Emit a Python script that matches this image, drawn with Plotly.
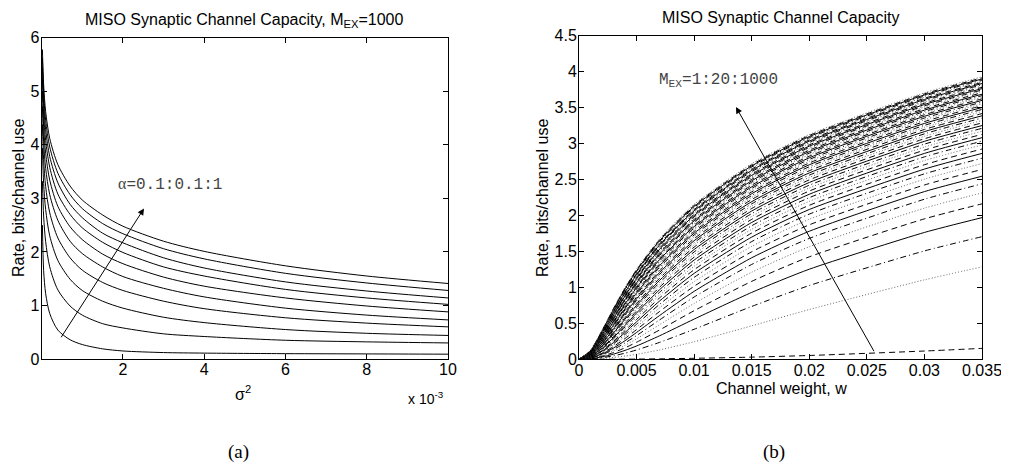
import plotly.graph_objects as go

# ---------------- (a) left panel data ----------------
sigma2 = [0.00002, 0.00005, 0.0001, 0.0002, 0.0004, 0.0007, 0.001, 0.0015,
          0.002, 0.003, 0.004, 0.006, 0.008, 0.01]
alphas = [0.1, 0.2, 0.3, 0.4, 0.5, 0.6, 0.7, 0.8, 0.9, 1.0]
rate_a01 = [2.50, 1.65, 1.22, 0.85, 0.54, 0.36, 0.27, 0.19, 0.15, 0.12, 0.11, 0.10, 0.095, 0.09]
rate_a02 = [3.32, 2.67, 2.19, 1.72, 1.29, 0.99, 0.82, 0.66, 0.58, 0.47, 0.42, 0.35, 0.32, 0.30]
rate_a03 = [3.94, 3.28, 2.79, 2.30, 1.84, 1.49, 1.28, 1.08, 0.95, 0.78, 0.68, 0.55, 0.48, 0.44]
rate_a04 = [4.38, 3.72, 3.22, 2.73, 2.26, 1.89, 1.66, 1.43, 1.28, 1.08, 0.94, 0.77, 0.67, 0.60]
rate_a05 = [4.72, 4.06, 3.56, 3.07, 2.59, 2.20, 1.97, 1.72, 1.54, 1.32, 1.16, 0.95, 0.82, 0.73]
rate_a06 = [5.00, 4.34, 3.84, 3.34, 2.85, 2.47, 2.23, 1.96, 1.78, 1.53, 1.36, 1.14, 0.99, 0.88]
rate_a07 = [5.24, 4.57, 4.08, 3.58, 3.08, 2.70, 2.45, 2.18, 1.99, 1.72, 1.55, 1.30, 1.14, 1.02]
rate_a08 = [5.44, 4.78, 4.28, 3.78, 3.29, 2.89, 2.64, 2.35, 2.17, 1.89, 1.70, 1.44, 1.27, 1.14]
rate_a09 = [5.62, 4.96, 4.46, 3.96, 3.47, 3.07, 2.81, 2.53, 2.34, 2.06, 1.87, 1.60, 1.42, 1.28]
rate_a10 = [5.78, 5.12, 4.62, 4.12, 3.63, 3.23, 2.97, 2.69, 2.48, 2.20, 2.01, 1.74, 1.55, 1.41]
left_curves = [rate_a01, rate_a02, rate_a03, rate_a04, rate_a05,
               rate_a06, rate_a07, rate_a08, rate_a09, rate_a10]
left_xticks = [0.002, 0.004, 0.006, 0.008, 0.01]
left_xticklabels = ["2", "4", "6", "8", "10"]
left_yticks = [0, 1, 2, 3, 4, 5, 6]

# ---------------- (b) right panel data ----------------
m_ex = list(range(1, 1001, 20))
weights = [0.0, 0.001, 0.002, 0.003, 0.004, 0.005, 0.007, 0.01, 0.015, 0.02, 0.03, 0.035]
r_w000 = [0.0] * 50
r_w001 = [0.000,0.003,0.006,0.008,0.011,0.014,0.017,0.019,0.022,0.025,0.027,0.030,0.033,0.035,0.038,0.041,0.043,0.046,0.048,0.051,0.053,0.056,0.059,0.061,0.064,0.066,0.069,0.071,0.074,0.076,0.079,0.081,0.084,0.086,0.089,0.091,0.093,0.096,0.098,0.101,0.103,0.105,0.108,0.110,0.113,0.115,0.117,0.120,0.122,0.124]
r_w002 = [0.001,0.012,0.022,0.033,0.043,0.054,0.064,0.074,0.084,0.094,0.103,0.113,0.122,0.132,0.141,0.150,0.159,0.168,0.176,0.185,0.193,0.202,0.210,0.218,0.227,0.235,0.242,0.250,0.258,0.266,0.273,0.281,0.288,0.296,0.303,0.310,0.318,0.325,0.332,0.339,0.345,0.352,0.359,0.366,0.372,0.379,0.385,0.392,0.398,0.405]
r_w003 = [0.001,0.026,0.049,0.072,0.094,0.116,0.137,0.157,0.177,0.196,0.215,0.233,0.251,0.268,0.285,0.302,0.318,0.334,0.349,0.365,0.379,0.394,0.408,0.422,0.436,0.450,0.463,0.476,0.488,0.501,0.513,0.525,0.537,0.549,0.561,0.572,0.583,0.594,0.605,0.616,0.626,0.637,0.647,0.657,0.667,0.677,0.686,0.696,0.705,0.715]
r_w004 = [0.002,0.045,0.085,0.124,0.160,0.195,0.228,0.259,0.290,0.319,0.347,0.373,0.399,0.424,0.449,0.472,0.495,0.517,0.538,0.559,0.579,0.598,0.617,0.636,0.654,0.672,0.689,0.706,0.722,0.738,0.754,0.769,0.785,0.799,0.814,0.828,0.842,0.856,0.869,0.882,0.895,0.908,0.920,0.932,0.944,0.956,0.968,0.979,0.991,1.002]
r_w005 = [0.003,0.069,0.130,0.185,0.237,0.285,0.330,0.373,0.413,0.451,0.487,0.521,0.554,0.585,0.616,0.644,0.672,0.699,0.725,0.750,0.774,0.797,0.820,0.841,0.863,0.883,0.903,0.923,0.942,0.960,0.978,0.996,1.013,1.030,1.046,1.062,1.078,1.093,1.108,1.123,1.138,1.152,1.166,1.179,1.193,1.206,1.219,1.231,1.244,1.256]
r_w007 = [0.007,0.130,0.235,0.327,0.408,0.481,0.548,0.609,0.665,0.717,0.765,0.811,0.854,0.894,0.932,0.968,1.003,1.036,1.068,1.098,1.127,1.155,1.182,1.207,1.232,1.257,1.280,1.303,1.325,1.346,1.367,1.387,1.406,1.425,1.444,1.462,1.480,1.497,1.514,1.530,1.546,1.562,1.577,1.592,1.607,1.622,1.636,1.650,1.663,1.677]
r_w010 = [0.014,0.244,0.418,0.559,0.676,0.777,0.866,0.945,1.016,1.080,1.140,1.195,1.246,1.293,1.338,1.380,1.420,1.457,1.493,1.527,1.560,1.591,1.621,1.649,1.677,1.704,1.729,1.754,1.778,1.801,1.823,1.845,1.866,1.887,1.907,1.926,1.945,1.963,1.981,1.999,2.016,2.033,2.049,2.065,2.081,2.096,2.111,2.126,2.140,2.154]
r_w015 = [0.030,0.465,0.735,0.930,1.084,1.211,1.319,1.412,1.495,1.570,1.637,1.699,1.756,1.808,1.857,1.903,1.946,1.987,2.026,2.062,2.097,2.130,2.162,2.192,2.222,2.250,2.277,2.303,2.328,2.352,2.376,2.398,2.421,2.442,2.463,2.483,2.503,2.522,2.540,2.558,2.576,2.593,2.610,2.627,2.643,2.659,2.674,2.689,2.704,2.719]
r_w020 = [0.053,0.692,1.026,1.253,1.425,1.565,1.681,1.781,1.870,1.948,2.019,2.083,2.142,2.197,2.248,2.295,2.340,2.382,2.421,2.459,2.495,2.529,2.561,2.592,2.622,2.651,2.678,2.705,2.730,2.755,2.779,2.802,2.824,2.846,2.867,2.888,2.908,2.927,2.946,2.964,2.982,3.000,3.017,3.034,3.050,3.066,3.081,3.097,3.112,3.126]
r_w030 = [0.115,1.105,1.507,1.764,1.953,2.102,2.226,2.332,2.424,2.505,2.579,2.645,2.706,2.763,2.815,2.863,2.909,2.952,2.992,3.031,3.067,3.101,3.135,3.166,3.196,3.225,3.253,3.280,3.306,3.331,3.355,3.379,3.401,3.423,3.445,3.465,3.485,3.505,3.524,3.543,3.561,3.578,3.596,3.613,3.629,3.645,3.661,3.676,3.691,3.706]
r_w035 = [0.152,1.285,1.705,1.970,2.162,2.314,2.440,2.546,2.640,2.722,2.796,2.863,2.924,2.981,3.033,3.082,3.128,3.171,3.212,3.250,3.287,3.321,3.355,3.386,3.417,3.446,3.474,3.501,3.527,3.552,3.576,3.600,3.622,3.644,3.666,3.686,3.707,3.726,3.745,3.764,3.782,3.800,3.817,3.834,3.850,3.866,3.882,3.898,3.913,3.928]
right_columns = [r_w000, r_w001, r_w002, r_w003, r_w004, r_w005, r_w007, r_w010,
                 r_w015, r_w020, r_w030, r_w035]
right_xticks = [0, 0.005, 0.01, 0.015, 0.02, 0.025, 0.03, 0.035]
right_xticklabels = ["0", "0.005", "0.01", "0.015", "0.02", "0.025", "0.03", "0.035"]
right_yticks = [0, 0.5, 1, 1.5, 2, 2.5, 3, 3.5, 4, 4.5]
right_yticklabels = ["0", "0.5", "1", "1.5", "2", "2.5", "3", "3.5", "4", "4.5"]

# ---------------- figure ----------------
# the page body has an 8px margin, so the figure is sized to fill the window from there
OFF = 8
W, H = 1009 - OFF, 468 - OFF
SANS = "Liberation Sans, Arial, Helvetica, sans-serif"
MONO = "Liberation Mono, Courier New, monospace"
SERIF = "Liberation Serif, Times New Roman, serif"

def px_x(p):
    return (p - OFF) / W

def px_y(p):
    return 1 - (p - OFF) / H

fig = go.Figure()

for a, ys in zip(alphas, left_curves):
    fig.add_trace(go.Scatter(x=sigma2, y=ys, mode="lines", xaxis="x", yaxis="y",
                             line=dict(color="black", width=1, shape="spline", smoothing=0.8),
                             name=f"alpha={a}", showlegend=False, hoverinfo="skip"))

styles = [("black", "6px,4px"), ("#666666", "1px,2px"), ("black", "6px,3px,1px,3px"), ("black", "solid")]
for j, m in enumerate(m_ex):
    ys = [col[j] for col in right_columns]
    color, dash = styles[j % 4]
    fig.add_trace(go.Scatter(x=weights, y=ys, mode="lines", xaxis="x2", yaxis="y2",
                             line=dict(color=color, width=1, dash=dash, shape="spline", smoothing=0.6),
                             name=f"M_EX={m}", showlegend=False, hoverinfo="skip"))

axis_common = dict(showline=True, linecolor="black", linewidth=1, mirror="ticks",
                   ticks="inside", ticklen=5, tickwidth=1, tickcolor="black",
                   showgrid=False, zeroline=False, automargin=False,
                   tickfont=dict(family=SANS, size=16, color="black"))

fig.update_layout(
    template="none",
    width=W, height=H, margin=dict(l=0, r=0, t=0, b=0, pad=0),
    paper_bgcolor="white", plot_bgcolor="white", showlegend=False,
    xaxis=dict(domain=[px_x(41.6), px_x(448)], range=[0, 0.01], tickvals=left_xticks,
               ticktext=left_xticklabels, anchor="y", ticklabelstandoff=-4, **axis_common),
    yaxis=dict(domain=[px_y(359), px_y(37.7)], range=[0, 6], tickvals=left_yticks,
               anchor="x", ticklabelstandoff=-2, **axis_common),
    xaxis2=dict(domain=[px_x(579), px_x(982)], range=[0, 0.035], tickvals=right_xticks,
                ticktext=right_xticklabels, anchor="y2", ticklabelstandoff=-4, **axis_common),
    yaxis2=dict(domain=[px_y(359.3), px_y(35.7)], range=[0, 4.5], tickvals=right_yticks,
                ticktext=right_yticklabels, anchor="x2", ticklabelstandoff=-2, **axis_common),
)

ann = []
def text(x, y, s, size=16, family=SANS, color="black", angle=0, xanchor="center", yanchor="middle"):
    ann.append(dict(x=px_x(x), y=px_y(y), xref="paper", yref="paper", text=s, showarrow=False,
                    font=dict(family=family, size=size, color=color), textangle=angle,
                    xanchor=xanchor, yanchor=yanchor))

text(244, 8.5, "MISO Synaptic Channel Capacity, M<sub>EX</sub>=1000", size=16, yanchor="top")
text(780, 17, "MISO Synaptic Channel Capacity", size=16)
text(18, 198, "Rate, bits/channel use", size=16, angle=-90)
text(542, 198, "Rate, bits/channel use", size=16, angle=-90)
text(243, 393, "σ<sup>2</sup>", size=16)
text(426, 398, "x 10<sup>-3</sup>", size=14)
text(781, 388, "Channel weight, w", size=16)
text(238, 452, "(a)", size=19, family=SERIF)
text(774, 452, "(b)", size=19, family=SERIF)

ann.append(dict(x=0.00252, y=2.81, ax=0.000458, ay=0.378, xref="x", yref="y", axref="x", ayref="y",
                text="", showarrow=True, arrowhead=2, arrowsize=1.3, arrowwidth=1, arrowcolor="black"))
ann.append(dict(x=0.01363, y=3.51, ax=0.02569, ay=0.092, xref="x2", yref="y2", axref="x2", ayref="y2",
                text="", showarrow=True, arrowhead=2, arrowsize=1.3, arrowwidth=1, arrowcolor="black"))
ann.append(dict(x=0.00183, y=3.25, xref="x", yref="y", xanchor="left", yanchor="middle", showarrow=False,
                text="<span style='font-family:Liberation Serif'>α</span>=0.1:0.1:1",
                font=dict(family=MONO, size=16, color="#444444")))
ann.append(dict(x=0.00675, y=3.87, xref="x2", yref="y2", xanchor="left", yanchor="middle", showarrow=False,
                text="M<sub>EX</sub>=1:20:1000",
                font=dict(family=MONO, size=16, color="#444444")))

fig.update_layout(annotations=ann)
fig.write_html("out.html")
